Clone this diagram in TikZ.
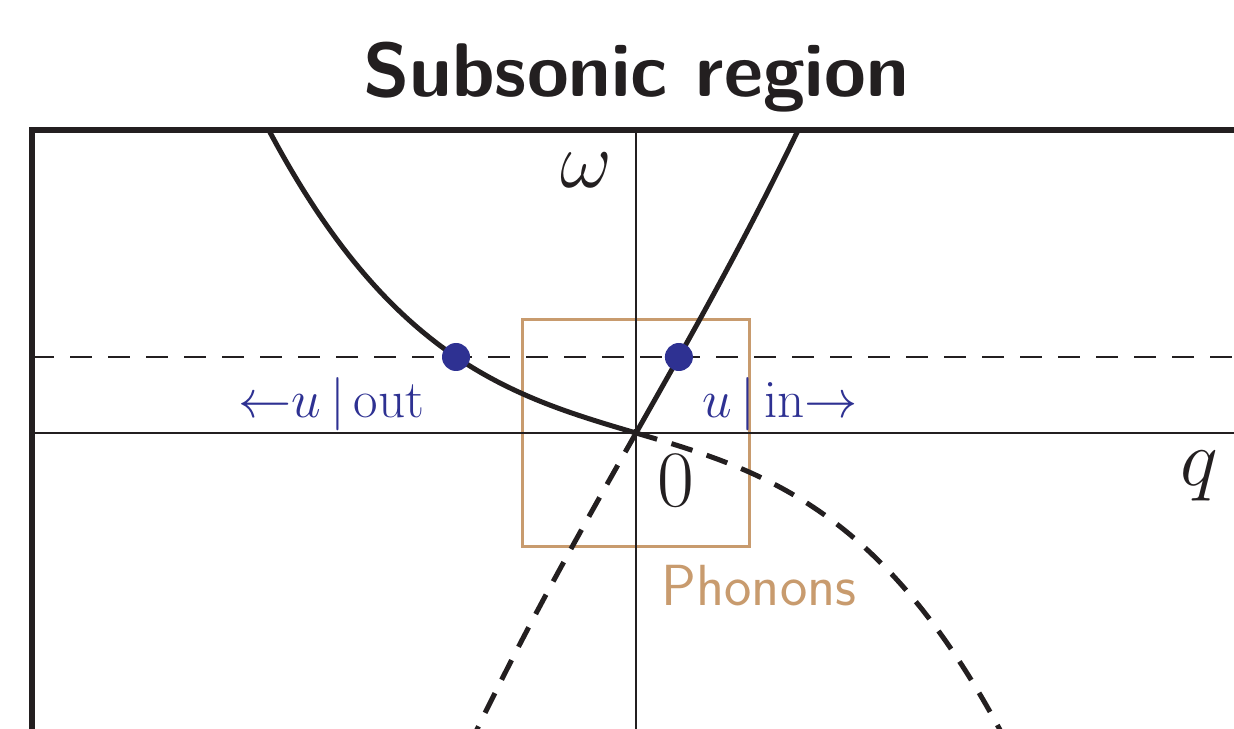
\RequirePackage{fix-cm}
\documentclass[tikz,border=0pt]{standalone}
\definecolor{ink}{RGB}{35,31,32}
\definecolor{dotblue}{RGB}{46,49,146}
\definecolor{phtan}{RGB}{200,155,110}
\begin{document}
\begin{tikzpicture}[x=50pt,y=50pt,
  frameline/.style={line width=3pt, draw=ink},
  axisline/.style={line width=1.1pt, draw=ink},
  branch/.style={line width=2.5pt, draw=ink},
  ghost/.style={line width=2.5pt, draw=ink, dash pattern=on 11pt off 7.5pt},
  level/.style={line width=1.3pt, draw=ink, dash pattern=on 11pt off 8pt},
  phbox/.style={line width=1.5pt, draw=phtan},
  spot/.style={circle, fill=dotblue, inner sep=0pt, minimum size=14pt},
  mlabel/.style={text=ink, inner sep=0pt, font=\fontsize{40}{48}\selectfont},
  flow/.style={text=dotblue, inner sep=0pt, font=\fontsize{26.6}{32}\selectfont},
]
\clip (0,0) rectangle (12.34,7.28);
% title
\node[anchor=base, text=ink, inner sep=0pt,
  font=\sffamily\bfseries\fontsize{38}{46}\selectfont] (title) at (6.36,6.31) {Subsonic region};
% phonon box
\draw[phbox] (5.22,1.82) rectangle (7.49,4.08);
% axes
\coordinate (O) at (6.36,2.95);
\draw[axisline] (0.32,2.95) -- (12.6,2.95);
\draw[axisline] (6.36,5.98) -- (6.36,-0.2);
% level line
\draw[level] (0.32,3.71) -- (12.6,3.71);
% branches
\begin{scope}
\clip (0.32,-1) rectangle (13,5.98);
\begin{scope}[shift={(O)}]
\draw[branch] plot[domain=-3.75:1.7, samples=140]
  (\x, {0.735*\x + 1.03*abs(\x) + 0.0393*abs(\x)^3});
\draw[ghost] plot[domain=0:-1.8, samples=60]
  (\x, {0.735*\x - 1.03*abs(\x) - 0.0393*abs(\x)^3});
\draw[ghost] plot[domain=0:3.8, samples=140]
  (\x, {0.735*\x - 1.03*abs(\x) - 0.0393*abs(\x)^3});
\node[spot] (dotL) at (-1.80,0.76) {};
\node[spot] (dotR) at (0.429,0.76) {};
\end{scope}
\end{scope}
% frame
\draw[frameline] (0.32,-1) -- (0.32,5.98) -- (13,5.98);
% labels
\node[mlabel] (omega) at (5.86,5.58) {$\omega$};
\node[mlabel] (qlab) at (11.99,2.52) {$q$};
\node[mlabel] (zero) at (6.76,2.47) {$0$};
\node[flow, anchor=base] (outlab) at (3.315,3.10) {${\leftarrow}u\,|\,\mathrm{out}$};
\node[flow, anchor=base] (inlab) at (7.80,3.10) {$u\,|\,\mathrm{in}{\rightarrow}$};
\node[anchor=base, text=phtan, inner sep=0pt, font=\sffamily\fontsize{29}{34}\selectfont] (phon) at (7.59,1.23) {Phonons};
\end{tikzpicture}
\end{document}
